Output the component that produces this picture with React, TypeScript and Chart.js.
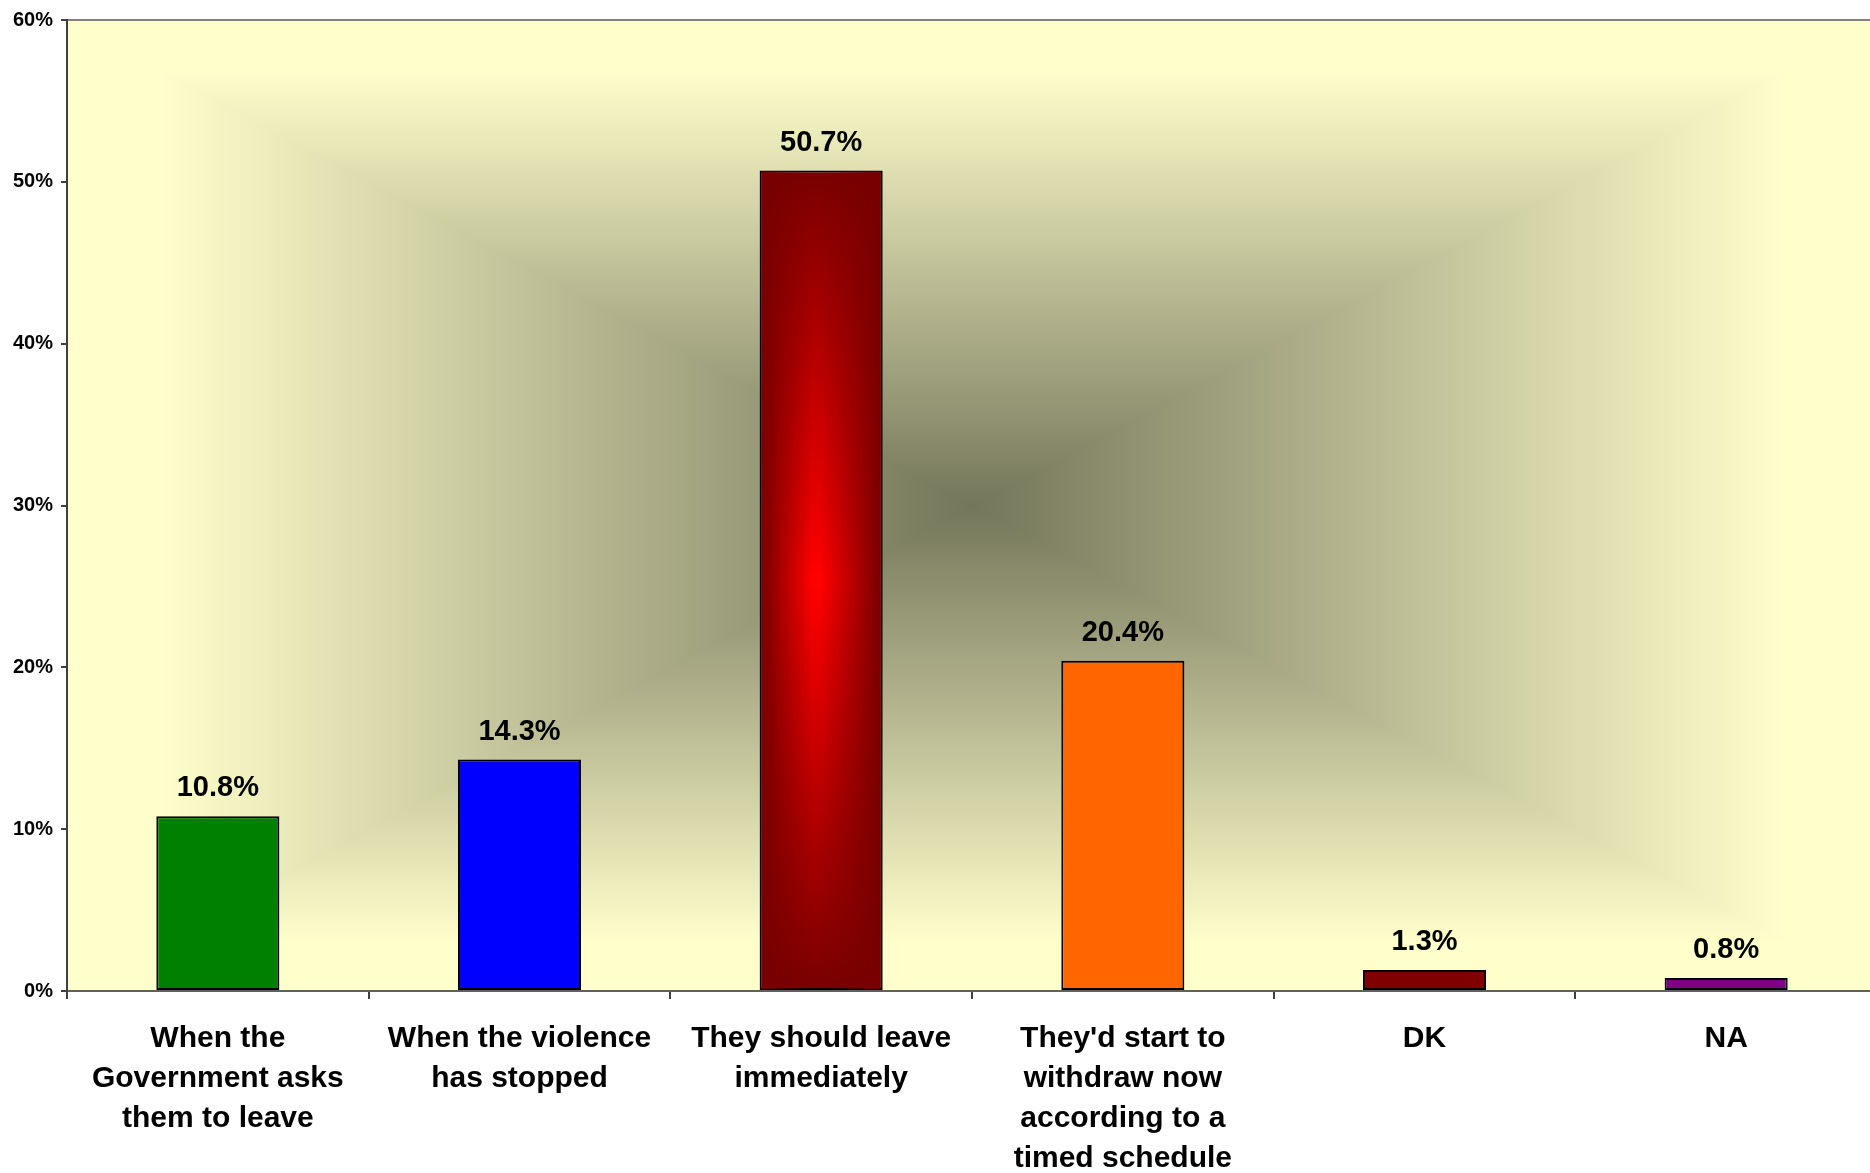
import React, { useEffect, useRef } from "react";
import { Chart, registerables } from "chart.js";

Chart.register(...registerables);

const categories: string[][] = [
  ["When the", "Government asks", "them to leave"],
  ["When the violence", "has stopped"],
  ["They should leave", "immediately"],
  ["They'd start to", "withdraw now", "according to a", "timed schedule"],
  ["DK"],
  ["NA"],
];
const values = [10.8, 14.3, 50.7, 20.4, 1.3, 0.8];
const barColors = ["#008000", "#0000FF", "#800000", "#FF6600", "#800000", "#800080"];
const gradientBarIndex = 2;
const yMin = 0;
const yMax = 60;
const yStep = 10;

const FONT = '"Liberation Sans", Arial, Helvetica, sans-serif';

const backgroundPlugin = {
  id: "plotBackground",
  beforeDraw(chart: any) {
    const { ctx, chartArea } = chart;
    const left = Math.round(chartArea.left);
    const top = Math.round(chartArea.top);
    const w = Math.round(chartArea.right - chartArea.left);
    const h = Math.round(chartArea.bottom - chartArea.top);
    const img = ctx.createImageData(w, h);
    const cx = w / 2;
    const cy = h / 2;
    const dark = [116, 118, 90];
    const light = [255, 255, 204];
    const d = img.data;
    for (let y = 0; y < h; y++) {
      const ty = Math.abs(y - cy) / cy;
      for (let x = 0; x < w; x++) {
        const tx = Math.abs(x - cx) / cx;
        let t = Math.max(tx, ty) / 0.9;
        if (t > 1) t = 1;
        const i = (y * w + x) * 4;
        d[i] = dark[0] + (light[0] - dark[0]) * t;
        d[i + 1] = dark[1] + (light[1] - dark[1]) * t;
        d[i + 2] = dark[2] + (light[2] - dark[2]) * t;
        d[i + 3] = 255;
      }
    }
    ctx.putImageData(img, left, top);
    ctx.save();
    ctx.strokeStyle = "#808080";
    ctx.lineWidth = 2;
    ctx.beginPath();
    ctx.moveTo(chartArea.left, chartArea.top);
    ctx.lineTo(chartArea.right, chartArea.top);
    ctx.stroke();
    ctx.restore();
  },
};

const barOverlayPlugin = {
  id: "barOverlay",
  afterDatasetsDraw(chart: any) {
    const { ctx } = chart;
    const meta = chart.getDatasetMeta(0);
    const el = meta.data[gradientBarIndex];
    if (!el) return;
    const x0 = el.x - el.width / 2 + 2;
    const x1 = el.x + el.width / 2 - 2;
    const g = ctx.createLinearGradient(x0, 0, x1, 0);
    g.addColorStop(0, "rgba(120,0,0,1)");
    g.addColorStop(0.42, "rgba(120,0,0,0)");
    g.addColorStop(0.5, "rgba(120,0,0,0)");
    g.addColorStop(1, "rgba(120,0,0,1)");
    ctx.save();
    ctx.fillStyle = g;
    ctx.fillRect(x0, el.y + 1, x1 - x0, el.base - el.y - 2);
    ctx.restore();
  },
};

const valueLabelPlugin = {
  id: "valueLabels",
  afterDatasetsDraw(chart: any) {
    const { ctx } = chart;
    const meta = chart.getDatasetMeta(0);
    ctx.save();
    ctx.font = `bold 29px ${FONT}`;
    ctx.fillStyle = "#000";
    ctx.textAlign = "center";
    ctx.textBaseline = "alphabetic";
    meta.data.forEach((el: any, i: number) => {
      ctx.fillText(values[i].toFixed(1) + "%", el.x, el.y - 20);
    });
    ctx.restore();
  },
};

export default function App() {
  const canvasRef = useRef<HTMLCanvasElement | null>(null);

  useEffect(() => {
    const canvas = canvasRef.current;
    if (!canvas) return;
    const chart = new Chart(canvas, {
      type: "bar",
      data: {
        labels: categories,
        datasets: [
          {
            data: values,
            backgroundColor: (c: any) => {
              if (c.dataIndex !== gradientBarIndex) return barColors[c.dataIndex];
              const ca = c.chart.chartArea;
              const ys = c.chart.scales && c.chart.scales.y;
              if (!ca || !ys) return barColors[c.dataIndex];
              const top = ys.getPixelForValue(values[gradientBarIndex]);
              const bottom = ys.getPixelForValue(0);
              const g = c.chart.ctx.createLinearGradient(0, top, 0, bottom);
              g.addColorStop(0, "#780000");
              g.addColorStop(0.5, "#FF0000");
              g.addColorStop(1, "#780000");
              return g;
            },
            borderColor: "#000000",
            borderWidth: 2,
            borderSkipped: false,
            categoryPercentage: 1,
            barPercentage: 0.408,
          },
        ],
      },
      options: {
        responsive: false,
        animation: false,
        devicePixelRatio: 1,
        layout: { padding: { top: 20, left: 0, right: 0, bottom: 0 } },
        plugins: {
          legend: { display: false },
          tooltip: { enabled: false },
          title: { display: false },
        },
        scales: {
          x: {
            type: "category",
            offset: true,
            grid: {
              display: true,
              offset: true,
              drawOnChartArea: false,
              drawTicks: true,
              tickLength: 8,
              color: "#404040",
              lineWidth: 2,
            },
            border: { display: true, color: "#606060", width: 2 },
            ticks: {
              color: "#000",
              padding: 20,
              maxRotation: 0,
              minRotation: 0,
              autoSkip: false,
              font: { family: FONT, size: 30, weight: "bold", lineHeight: 40 / 30 },
            },
            afterFit: (scale: any) => {
              scale.height = 182;
            },
          },
          y: {
            min: yMin,
            max: yMax,
            grid: {
              display: true,
              drawOnChartArea: false,
              drawTicks: true,
              tickLength: 6,
              color: "#404040",
              lineWidth: 2,
            },
            border: { display: true, color: "#404040", width: 2 },
            ticks: {
              stepSize: yStep,
              color: "#000",
              padding: 8,
              font: { family: FONT, size: 20, weight: "bold" },
              callback: (v: any) => `${v}%`,
            },
            afterFit: (scale: any) => {
              scale.width = 67;
            },
          },
        },
      },
      plugins: [backgroundPlugin, barOverlayPlugin, valueLabelPlugin],
    } as any);
    return () => chart.destroy();
  }, []);

  return (
    <div
      style={{
        position: "absolute",
        left: 0,
        top: 0,
        width: 1870,
        height: 1173,
        overflow: "hidden",
        background: "#fff",
      }}
    >
      <canvas ref={canvasRef} width={1877} height={1173} style={{ display: "block" }} />
    </div>
  );
}
